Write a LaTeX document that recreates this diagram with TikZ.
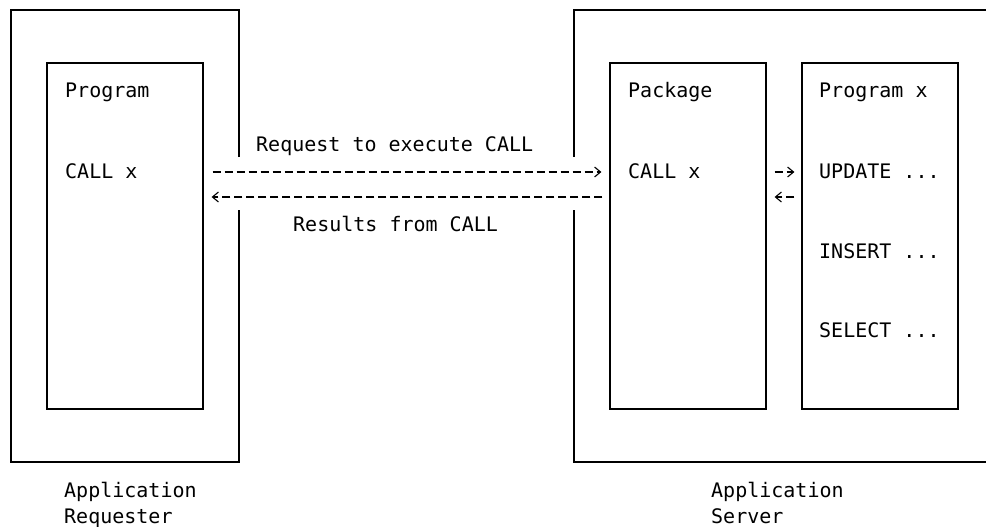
\documentclass[tikz,border=0pt]{standalone}
\usepackage{fontspec}
\newfontfamily\monofam{DejaVu Sans Mono}
\usetikzlibrary{arrows.meta}
\begin{document}
\begin{tikzpicture}[x=1pt,y=-1pt,
  frame/.style={line width=1.2pt},
  innerbox/.style={draw,line width=1.2pt,minimum width=156pt,minimum height=346pt,inner sep=0pt},
  lbl/.style={font=\monofam\fontsize{20}{24}\selectfont,inner sep=0pt,anchor=base west},
  dl/.style={line width=1.2pt,dash pattern=on 8pt off 4pt,-{Straight Barb[length=6pt,width=10pt,line width=1.1pt]}}]
\useasboundingbox (0,0) rectangle (986,527);
% outer frames
\draw[frame] (239,157) -- (239,10) -- (11,10) -- (11,462) -- (239,462) -- (239,210);
\draw[frame] (986,10) -- (574,10) -- (574,157);
\draw[frame] (574,210) -- (574,462) -- (986,462);
% inner boxes
\node[innerbox] (lprog) at (125,236) {};
\node[innerbox] (pkg) at (688,236) {};
\node[innerbox] (rprog) at (880,236) {};
% texts
\node[lbl] (t1) at (65,98) {Program};
\node[lbl] (t2) at (65,178) {CALL x};
\node[lbl] (t3) at (628,98) {Package};
\node[lbl] (t4) at (628,178) {CALL x};
\node[lbl] (t5) at (819,98) {Program x};
\node[lbl] (t6) at (819,178) {UPDATE ...};
\node[lbl] (t7) at (819,258) {INSERT ...};
\node[lbl] (t8) at (819,337) {SELECT ...};
\node[lbl] (t9) at (256,151) {Request to execute CALL};
\node[lbl] (t10) at (293,231) {Results from CALL};
\node[lbl] (t11) at (64,497) {Application};
\node[lbl] (t12) at (64,523) {Requester};
\node[lbl] (t13) at (711,497) {Application};
\node[lbl] (t14) at (711,523) {Server};
% connectors
\coordinate (ya) at (0,172);
\coordinate (yb) at (0,197);
\draw[dl,shorten <=9pt,shorten >=8pt] (lprog.east |- ya) -- (pkg.west |- ya);
\draw[dl,shorten <=7pt,shorten >=8pt] (pkg.west |- yb) -- (lprog.east |- yb);
\draw[dl,shorten <=8pt,shorten >=7pt] (pkg.east |- ya) -- (rprog.west |- ya);
\draw[dl,shorten <=7pt,shorten >=8pt] (rprog.west |- yb) -- (pkg.east |- yb);
\end{tikzpicture}
\end{document}
